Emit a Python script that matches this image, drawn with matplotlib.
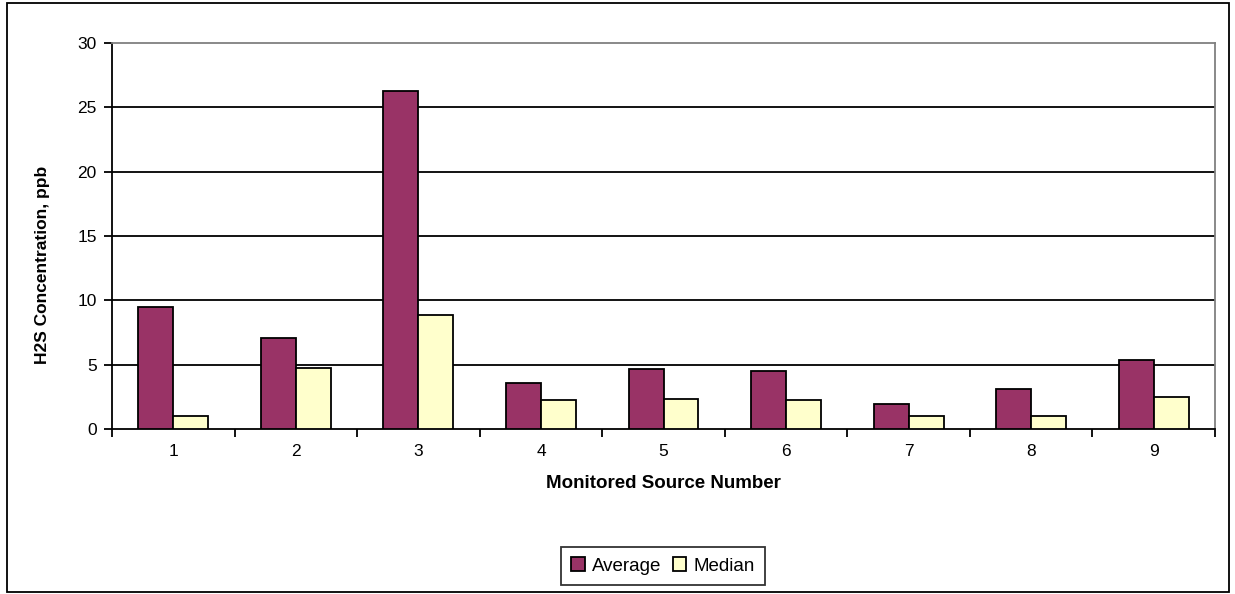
import numpy as np
import matplotlib.pyplot as plt
from matplotlib.patches import Rectangle

plt.rcParams['font.family'] = ['Liberation Sans', 'DejaVu Sans']

# H2S concentrations per monitored source
sources = ['1', '2', '3', '4', '5', '6', '7', '8', '9']
average = [9.5, 7.05, 26.3, 3.6, 4.65, 4.5, 1.92, 3.1, 5.4]
median = [1.0, 4.77, 8.87, 2.23, 2.36, 2.23, 1.0, 1.0, 2.5]

fig = plt.figure(figsize=(12.35, 5.94), dpi=100)
ax = fig.add_axes([112 / 1235, 1 - 429 / 594, 1103 / 1235, 386 / 594])

x = np.arange(len(sources))
w = 0.285
ax.bar(x - w / 2, average, w, color='#993366', edgecolor='black', linewidth=1.3,
       label='Average', zorder=3)
ax.bar(x + w / 2, median, w, color='#FFFFCC', edgecolor='black', linewidth=1.3,
       label='Median', zorder=3)

ax.set_xlim(-0.5, len(sources) - 0.5)
ax.set_ylim(0, 30)
ax.set_yticks(range(0, 31, 5))
ax.set_xticks(x)
ax.set_xticklabels(sources)
ax.set_xticks(np.arange(-0.5, len(sources)), minor=True)
ax.tick_params(axis='x', which='major', length=0, pad=11, labelsize=12.5)
ax.tick_params(axis='x', which='minor', length=6, width=1.3, direction='out')
ax.tick_params(axis='y', length=6, width=1.3, direction='out', pad=5, labelsize=12.5)

for v in range(5, 30, 5):
    ax.axhline(v, color='black', linewidth=1.3, zorder=1)

for side in ('top', 'right'):
    ax.spines[side].set_color('#808080')
    ax.spines[side].set_linewidth(1.3)
for side in ('left', 'bottom'):
    ax.spines[side].set_color('black')
    ax.spines[side].set_linewidth(1.3)

ax.set_xlabel('Monitored Source Number', fontsize=13.5, fontweight='bold', labelpad=11)
ax.set_ylabel('H2S Concentration, ppb', fontsize=12.5, fontweight='bold')
ax.yaxis.set_label_coords(-0.056, 0.425)

leg = fig.legend(loc='center', bbox_to_anchor=(663 / 1235, 1 - 566 / 594), ncol=2,
                 frameon=True, fancybox=False, fontsize=13.5, handlelength=0.7,
                 handleheight=0.7, handletextpad=0.4, columnspacing=0.6,
                 borderpad=0.55, borderaxespad=0)
leg.get_frame().set_edgecolor('black')
leg.get_frame().set_linewidth(1.3)

# outer chart border
fig.patches.append(Rectangle((7 / 1235, 2 / 594), 1222 / 1235, 589 / 594,
                             transform=fig.transFigure, fill=False,
                             edgecolor='black', linewidth=1.3))

fig.savefig('out.png', dpi=100)
